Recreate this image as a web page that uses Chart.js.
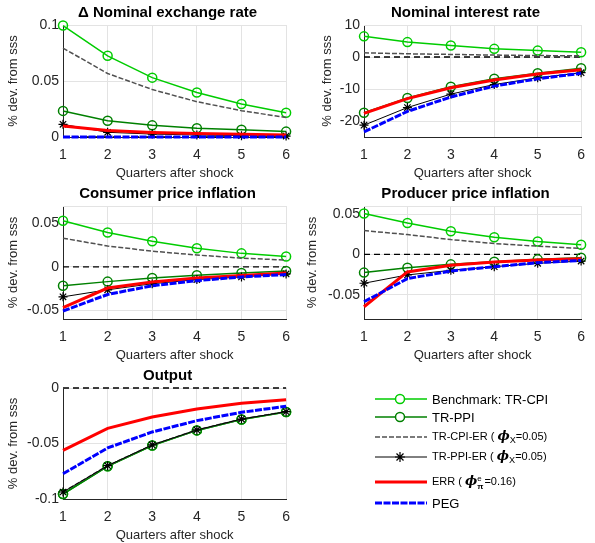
<!DOCTYPE html>
<html lang="en">
  <head>
    <meta charset="UTF-8">
    <title>Impulse responses</title>
    <script src="https://cdn.jsdelivr.net/npm/chart.js@4.4.1/dist/chart.umd.min.js"></script>
    <style>
      body { margin: 0; background: #fff; }
      #page { position: relative; width: 595px; height: 543px; font-family: 'Liberation Sans', Arial, sans-serif; }
      .panel { position: absolute; }
      #legend { position: absolute; left: 0; top: 0; width: 595px; height: 543px; pointer-events: none; }
      .row { position: absolute; left: 375px; height: 16px; display: flex; align-items: center; white-space: nowrap; color: #000; }
      .row svg { margin-right: 5px; }
      .plain { font-size: 13px; }
      .tex { font-size: 11px; }
      .phi { font-weight: bold; font-style: italic; font-size: 13px; font-family: 'DejaVu Serif', serif; }
      .stack { display: inline-flex; flex-direction: column; font-size: 8px; line-height: 8px; vertical-align: middle; margin-right: 1px; }
    </style>
  </head>
  <body>
    <div id="page">
      <div class="panel" id="p1"><canvas id="c1"></canvas></div>
      <div class="panel" id="p2"><canvas id="c2"></canvas></div>
      <div class="panel" id="p3"><canvas id="c3"></canvas></div>
      <div class="panel" id="p4"><canvas id="c4"></canvas></div>
      <div class="panel" id="p5"><canvas id="c5"></canvas></div>
      <div id="legend"></div>
    </div>
    <script>
    // quarters after shock
    const quarters = ['1', '2', '3', '4', '5', '6'];
    const seriesNames = ['Benchmark: TR-CPI', 'TR-PPI', 'TR-CPI-ER', 'TR-PPI-ER', 'ERR', 'PEG'];

    // delta nominal exchange rate
    const exchBench = [0.0995, 0.0725, 0.053, 0.0397, 0.0294, 0.0216];
    const exchTrPpi = [0.0233, 0.0145, 0.0104, 0.0079, 0.0064, 0.0048];
    const exchCpiEr = [0.0794, 0.0567, 0.0424, 0.0315, 0.0235, 0.0174];
    const exchPpiEr = [0.0113, 0.0042, 0.0026, 0.0018, 0.0012, 0.0008];
    const exchErr   = [0.0098, 0.0058, 0.0041, 0.0031, 0.0024, 0.0018];
    const exchPeg   = [0, 0, 0, 0, 0, 0];

    // nominal interest rate
    const rateBench = [6.45, 4.66, 3.6, 2.54, 2.0, 1.48];
    const rateTrPpi = [-17.4, -12.8, -9.3, -6.8, -5.1, -3.5];
    const rateCpiEr = [1.3, 1.0, 0.8, 0.6, 0.45, 0.35];
    const ratePpiEr = [-21.3, -15.8, -11.6, -8.6, -6.5, -4.9];
    const rateErr   = [-17.6, -13.0, -9.6, -7.2, -5.3, -4.0];
    const ratePeg   = [-23.4, -17.0, -12.5, -9.1, -6.8, -5.1];

    // consumer price inflation
    const cpiBench = [0.053, 0.0395, 0.0295, 0.0213, 0.0155, 0.012];
    const cpiTrPpi = [-0.0217, -0.017, -0.0128, -0.0097, -0.007, -0.0047];
    const cpiCpiEr = [0.033, 0.024, 0.018, 0.0136, 0.010, 0.0078];
    const cpiPpiEr = [-0.0345, -0.0264, -0.0194, -0.0147, -0.0116, -0.0081];
    const cpiErr   = [-0.047, -0.0244, -0.0174, -0.0128, -0.010, -0.007];
    const cpiPeg   = [-0.0508, -0.0318, -0.0217, -0.0159, -0.0116, -0.0089];

    // producer price inflation
    const ppiBench = [0.0508, 0.039, 0.0287, 0.0213, 0.016, 0.0119];
    const ppiTrPpi = [-0.0225, -0.0164, -0.0123, -0.009, -0.0061, -0.0041];
    const ppiCpiEr = [0.0295, 0.0246, 0.0184, 0.0135, 0.0102, 0.0074];
    const ppiPpiEr = [-0.0357, -0.0254, -0.0197, -0.0152, -0.011, -0.0082];
    const ppiErr   = [-0.0648, -0.0217, -0.0135, -0.0094, -0.007, -0.0053];
    const ppiPeg   = [-0.0586, -0.030, -0.0205, -0.0152, -0.0102, -0.0074];

    // output
    const outBench = [-0.0955, -0.0705, -0.0518, -0.0382, -0.0284, -0.0216];
    const outTrPpi = [-0.0955, -0.0705, -0.0518, -0.0382, -0.0284, -0.0216];
    const outCpiEr = [-0.0937, -0.070, -0.0513, -0.0378, -0.028, -0.0213];
    const outPpiEr = [-0.0937, -0.070, -0.0513, -0.0378, -0.028, -0.0213];
    const outErr   = [-0.0562, -0.0363, -0.0261, -0.0189, -0.0138, -0.0105];
    const outPeg   = [-0.0772, -0.054, -0.0396, -0.0294, -0.0219, -0.0165];

    // y ticks and limits
    const exchTicks = [0, 0.05, 0.1];
    const rateTicks = [-20, -10, 0, 10];
    const cpiTicks = [-0.05, 0, 0.05];
    const ppiTicks = [-0.05, 0, 0.05];
    const outTicks = [-0.1, -0.05, 0];
    const exchRange = [0, 0.1];
    const rateRange = [-25, 10];
    const cpiRange = [-0.06, 0.07];
    const ppiRange = [-0.08, 0.06];
    const outRange = [-0.1, 0];

    Chart.defaults.font.family = "'Liberation Sans', Arial, sans-serif";
    Chart.defaults.color = '#262626';

    const styles = [
      { color: '#00cc00', width: 1.5, dash: [], point: 'circle', radius: 4.5 },
      { color: '#008000', width: 1.5, dash: [], point: 'circle', radius: 4.5 },
      { color: '#505050', width: 1.5, dash: [5, 2], point: false, radius: 0 },
      { color: '#000000', width: 1, dash: [], point: 'star', radius: 4.5 },
      { color: '#ff0000', width: 3, dash: [], point: false, radius: 0 },
      { color: '#0000ff', width: 3, dash: [7, 1.5], point: false, radius: 0 }
    ];

    // title above each plot and the dashed zero line
    const panelDecor = {
      id: 'panelDecor',
      beforeDatasetsDraw(chart) {
        const { ctx, chartArea, scales } = chart;
        const y0 = scales.y.getPixelForValue(0);
        ctx.save();
        ctx.strokeStyle = '#e3e3e3';
        ctx.lineWidth = 1;
        ctx.beginPath();
        ctx.moveTo(chartArea.left, chartArea.top + 0.5);
        ctx.lineTo(chartArea.right, chartArea.top + 0.5);
        ctx.stroke();
        ctx.strokeStyle = '#000';
        ctx.lineWidth = 1.3;
        ctx.setLineDash([6, 4]);
        ctx.beginPath();
        ctx.moveTo(chartArea.left, y0);
        ctx.lineTo(chartArea.right, y0);
        ctx.stroke();
        ctx.restore();
      },
      afterDraw(chart, args, opts) {
        const { ctx, chartArea } = chart;
        ctx.save();
        ctx.fillStyle = '#000';
        ctx.font = "bold 15px 'Liberation Sans', Arial, sans-serif";
        ctx.textAlign = 'center';
        ctx.textBaseline = 'middle';
        ctx.fillText(opts.text, (chartArea.left + chartArea.right) / 2 - 7, chartArea.top - 12);
        ctx.restore();
      }
    };

    function makePanel(id, box, area, title, series, ticks, range) {
      const div = document.getElementById('p' + id);
      div.style.left = box.left + 'px';
      div.style.top = box.top + 'px';
      div.style.width = box.width + 'px';
      div.style.height = box.height + 'px';
      const xHeight = 44;
      const yWidth = area.l - box.left;

      const datasets = series.map((vals, i) => ({
        label: seriesNames[i],
        data: vals,
        borderColor: styles[i].color,
        backgroundColor: 'transparent',
        borderWidth: styles[i].width,
        borderDash: styles[i].dash,
        pointStyle: styles[i].point,
        pointRadius: styles[i].radius,
        pointBorderWidth: i == 3 ? 1.2 : 1.5,
        pointBorderColor: styles[i].color,
        pointBackgroundColor: 'transparent',
        tension: 0,
        clip: false,
        order: series.length - 1 - i
      }));

      new Chart(document.getElementById('c' + id), {
        type: 'line',
        data: { labels: quarters, datasets: datasets },
        options: {
          responsive: true,
          maintainAspectRatio: false,
          animation: false,
          events: [],
          layout: {
            padding: {
              left: 0,
              top: area.t - box.top,
              right: box.left + box.width - area.r,
              bottom: box.top + box.height - area.b - xHeight
            }
          },
          plugins: {
            legend: { display: false },
            tooltip: { enabled: false },
            panelDecor: { text: title }
          },
          scales: {
            x: {
              offset: false,
              grid: { color: '#e3e3e3', drawTicks: false },
              border: { display: true, color: '#262626', width: 1 },
              ticks: { font: { size: 14 }, padding: 10, maxRotation: 0 },
              title: { display: true, text: 'Quarters after shock', font: { size: 13 }, padding: 0 },
              afterFit: s => { s.height = xHeight; }
            },
            y: {
              min: range[0],
              max: range[1],
              afterBuildTicks: s => { s.ticks = ticks.map(v => ({ value: v })); },
              grid: { color: '#e3e3e3', drawTicks: false },
              border: { display: true, color: '#262626', width: 1 },
              ticks: {
                font: { size: 14 },
                padding: 4,
                callback: v => String(parseFloat(v.toFixed(4)))
              },
              title: { display: true, text: '% dev. from sss', font: { size: 13 }, padding: { top: 6, bottom: 0 } },
              afterFit: s => { s.width = yWidth; }
            }
          }
        },
        plugins: [panelDecor]
      });
    }

    makePanel(1, { left: 0, top: 0, width: 300, height: 185 }, { l: 63, r: 289, t: 25, b: 137 },
      '\u0394 Nominal exchange rate',
      [exchBench, exchTrPpi, exchCpiEr, exchPpiEr, exchErr, exchPeg], exchTicks, exchRange);
    makePanel(2, { left: 314, top: 0, width: 281, height: 185 }, { l: 364, r: 590, t: 25, b: 137 },
      'Nominal interest rate',
      [rateBench, rateTrPpi, rateCpiEr, ratePpiEr, rateErr, ratePeg], rateTicks, rateRange);
    makePanel(3, { left: 0, top: 185, width: 300, height: 180 }, { l: 63, r: 289, t: 206, b: 319 },
      'Consumer price inflation',
      [cpiBench, cpiTrPpi, cpiCpiEr, cpiPpiEr, cpiErr, cpiPeg], cpiTicks, cpiRange);
    makePanel(4, { left: 299, top: 185, width: 296, height: 180 }, { l: 364, r: 590, t: 206, b: 319 },
      'Producer price inflation',
      [ppiBench, ppiTrPpi, ppiCpiEr, ppiPpiEr, ppiErr, ppiPeg], ppiTicks, ppiRange);
    makePanel(5, { left: 0, top: 360, width: 300, height: 183 }, { l: 63, r: 289, t: 388, b: 499 },
      'Output',
      [outBench, outTrPpi, outCpiEr, outPpiEr, outErr, outPeg], outTicks, outRange);

    // legend, drawn as html next to the output panel
    function sample(i) {
      const s = styles[i];
      let svg = '<svg width="52" height="14" viewBox="0 0 52 14">';
      svg += '<line x1="0" y1="7" x2="52" y2="7" stroke="' + s.color + '" stroke-width="' + s.width + '"' +
        (s.dash.length ? ' stroke-dasharray="' + s.dash.join(',') + '"' : '') + '/>';
      if (s.point == 'circle') {
        svg += '<circle cx="25" cy="7" r="4.5" fill="#fff" stroke="' + s.color + '" stroke-width="1.5"/>';
      }
      if (s.point == 'star') {
        svg += '<path d="M20 7H30M25 2V12M21.5 3.5L28.5 10.5M21.5 10.5L28.5 3.5" stroke="#000" stroke-width="1.2"/>';
      }
      return svg + '</svg>';
    }
    const legendRows = [
      { y: 399, html: '<span class="plain">Benchmark: TR-CPI</span>' },
      { y: 417, html: '<span class="plain">TR-PPI</span>' },
      { y: 437, html: '<span class="tex">TR-CPI-ER ( <span class="phi">\u03d5</span><sub>X</sub>=0.05)</span>' },
      { y: 457, html: '<span class="tex">TR-PPI-ER ( <span class="phi">\u03d5</span><sub>X</sub>=0.05)</span>' },
      { y: 482, html: '<span class="tex">ERR ( <span class="phi">\u03d5</span><span class="stack"><span>e</span><b>\u03c0</b></span>=0.16)</span>' },
      { y: 503, html: '<span class="plain">PEG</span>' }
    ];
    const legend = document.getElementById('legend');
    legendRows.forEach((r, i) => {
      const div = document.createElement('div');
      div.className = 'row';
      div.style.top = (r.y - 8) + 'px';
      div.innerHTML = sample(i) + r.html;
      legend.appendChild(div);
    });
    </script>
  </body>
</html>
